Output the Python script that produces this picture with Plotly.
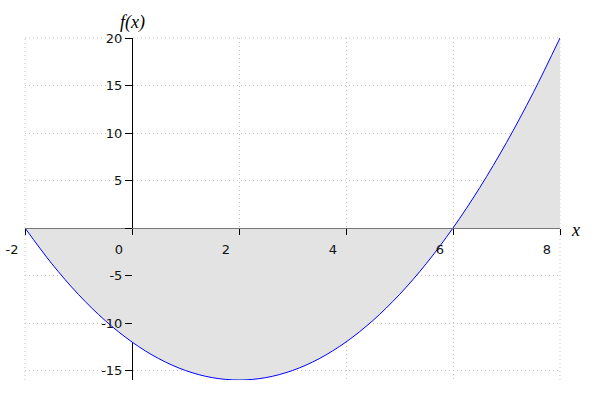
import plotly.graph_objects as go

# data
x_vals = [-2, -1.5, -1, -0.5, 0, 0.5, 1, 1.5, 2, 2.5, 3, 3.5, 4, 4.5, 5, 5.5, 6, 6.5, 7, 7.5, 8]
y_vals = [0, -3.75, -7, -9.75, -12, -13.75, -15, -15.75, -16, -15.75, -15, -13.75, -12, -9.75, -7, -3.75, 0, 4.25, 9, 14.25, 20]
x_ticks = [-2, 0, 2, 4, 6, 8]
x_ticktext = ["-2", "0", "2", "4", "6", "8"]
y_ticks = [-15, -10, -5, 0, 5, 10, 15, 20]
y_ticktext = ["-15", "-10", "-5", "", "5", "10", "15", "20"]
x_range = [-2, 8]
y_range = [-16, 20]

fig = go.Figure()
fig.add_trace(go.Scatter(
    x=x_vals, y=y_vals, mode="lines", line=dict(color="#0000ff", width=1, shape="spline"),
    fill="tozeroy", fillcolor="#e3e3e3", hoverinfo="skip", showlegend=False))

tickfont = dict(family="DejaVu Sans", size=13, color="#111111")
grid = dict(showgrid=True, gridcolor="#c4c4c4", gridwidth=1, griddash="1px,3px")
serif = "Times New Roman, Liberation Serif, serif"

fig.update_layout(
    width=600, height=400,
    margin=dict(l=25, r=40, t=38, b=20),
    paper_bgcolor="white", plot_bgcolor="white",
    showlegend=False,
    xaxis=dict(range=x_range, tickmode="array", tickvals=x_ticks, ticktext=x_ticktext,
               anchor="free", position=(0 - y_range[0]) / (y_range[1] - y_range[0]),
               showline=True, linecolor="#777777", linewidth=1,
               zeroline=True, zerolinecolor="black", zerolinewidth=1,
               ticks="outside", ticklen=6, tickcolor="black", tickwidth=1,
               ticklabelshift=-13, ticklabelstandoff=3, automargin=False,
               ticklabeloverflow="allow",
               tickfont=tickfont, layer="above traces", **grid),
    yaxis=dict(range=y_range, tickmode="array", tickvals=y_ticks, ticktext=y_ticktext,
               anchor="free", position=(0 - x_range[0]) / (x_range[1] - x_range[0]),
               showline=False, zeroline=False, automargin=False,
               ticks="outside", ticklen=7, tickcolor="black", tickwidth=1,
               tickfont=tickfont, layer="above traces", **grid),
    shapes=[
        dict(type="line", xref="x domain", yref="y domain", x0=0, x1=1, y0=1, y1=1,
             line=dict(color="#c4c4c4", width=1, dash="1px,3px"), layer="below"),
        dict(type="line", xref="x domain", yref="y domain", x0=0, x1=0, y0=0, y1=1,
             line=dict(color="#c4c4c4", width=1, dash="1px,3px"), layer="below"),
        dict(type="line", xref="x domain", yref="y domain", x0=1, x1=1, y0=0, y1=1,
             line=dict(color="#c4c4c4", width=1, dash="1px,3px"), layer="below"),
    ],
    annotations=[
        dict(x=0, y=y_range[1], xref="x", yref="y", text="<i>f(x)</i>", showarrow=False,
             yshift=16, font=dict(family=serif, size=18, color="black")),
        dict(x=x_range[1], y=0, xref="x", yref="y", text="<i>x</i>", showarrow=False,
             xshift=15, yshift=-2, font=dict(family=serif, size=18, color="black")),
    ],
)

fig.write_html("out.html",
               config={"displayModeBar": False},
               post_script="document.body.style.margin='0';document.body.style.overflow='hidden';")
